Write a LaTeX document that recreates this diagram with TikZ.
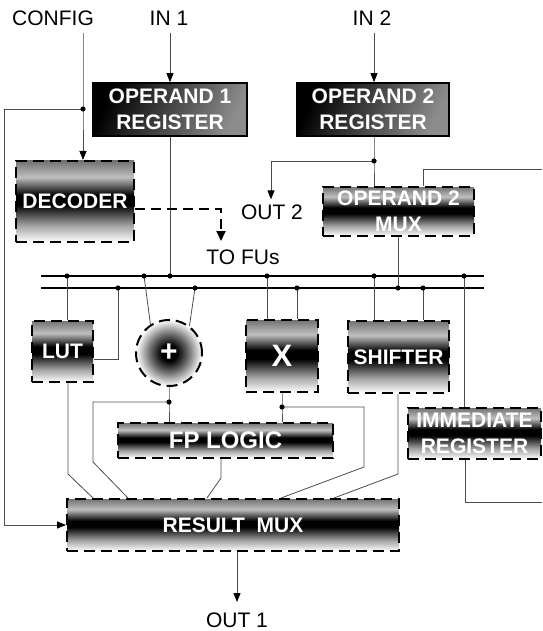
\documentclass[tikz,border=0pt]{standalone}
\usepackage{fontspec}
\setmainfont{Liberation Sans}
\usetikzlibrary{arrows.meta,calc}
\pgfdeclareverticalshading{barrel}{100bp}{color(0bp)=(white); color(25bp)=(white); color(35bp)=(black!35); color(48bp)=(black); color(54bp)=(black); color(65bp)=(black!25); color(75bp)=(black!55); color(100bp)=(black!55)}
\pgfdeclareradialshading{ball}{\pgfpoint{0bp}{0bp}}{color(0bp)=(black); color(6bp)=(black); color(14bp)=(black!60); color(25bp)=(white); color(50bp)=(white)}
\tikzset{
  lbl/.style={font=\fontsize{21}{24}\selectfont, inner sep=0pt},
  reg/.style={draw=black, line width=1.6pt, top color=black, bottom color=black!45, shading angle=65,
    text=white, font=\bfseries\fontsize{21}{26}\selectfont, align=center, inner sep=0pt},
  fu/.style={draw=black, line width=2pt, dash pattern=on 11pt off 6pt, shading=barrel,
    text=white, font=\bfseries\fontsize{21}{26}\selectfont, align=center, inner sep=0pt},
  wire/.style={draw=black!70, line width=0.8pt},
  arr/.style={wire, -{Triangle[length=9pt,width=7pt,color=black]}},
  ctl/.style={draw=black, line width=2pt, dash pattern=on 10pt off 6pt, -{Triangle[length=10pt,width=9pt]}},
  bus/.style={draw=black, line width=2pt}
}
\begin{document}
\begin{tikzpicture}[x=1pt,y=-1pt]
\useasboundingbox (0,0) rectangle (542,631);

% labels
\node[lbl] (config) at (53,18) {CONFIG};
\node[lbl] (in1) at (169,18) {IN 1};
\node[lbl] (in2) at (372,18) {IN 2};
\node[lbl] (out2) at (272,212) {OUT 2};
\node[lbl] (tofu) at (243,257) {TO FUs};
\node[lbl] (out1) at (237,620) {OUT 1};

% boxes
\node[reg, minimum width=154pt, minimum height=53pt] (op1) at (170,109.5) {OPERAND 1\\REGISTER};
\node[reg, minimum width=152pt, minimum height=53pt] (op2) at (373,109.5) {OPERAND 2\\REGISTER};
\node[fu, minimum width=118pt, minimum height=81pt] (dec) at (75,201.5) {DECODER};
\node[fu, minimum width=151pt, minimum height=49pt] (mux2) at (398.5,211.5) {OPERAND 2\\MUX};
\node[fu, minimum width=61pt, minimum height=61pt] (lut) at (62.5,351.5) {LUT};
\node[fu, circle, shading=ball, minimum size=66pt, font=\bfseries\fontsize{30}{30}\selectfont] (add) at (169,353) {+};
\node[fu, minimum width=72pt, minimum height=72pt, font=\bfseries\fontsize{31}{31}\selectfont] (mul) at (282,356) {X};
\node[fu, minimum width=101pt, minimum height=72pt] (shf) at (398.5,357) {SHIFTER};
\node[fu, minimum width=215pt, minimum height=35pt, font=\bfseries\fontsize{24}{26}\selectfont] (fpl) at (225.5,440.5) {FP LOGIC};
\node[fu, minimum width=133pt, minimum height=51pt] (imm) at (474.5,433.5) {IMMEDIATE\\REGISTER};
\node[fu, minimum width=332pt, minimum height=52pt] (rmux) at (233,525) {RESULT\ \ MUX};

% coordinates
\coordinate (cfg0) at (83,33);
\coordinate (in1s) at (170,33);
\coordinate (in2s) at (374,33);
\coordinate (xl) at (4,0);
\coordinate (loopIn) at (542,169);
\coordinate (loopOut) at (542,502);
\coordinate (dcfg) at (83,109);
\coordinate (dop2) at (374,161);
\coordinate (dctl) at (221,209);
\coordinate (dtip) at (221,241);
\coordinate (busTL) at (41,276);
\coordinate (busTR) at (484,276);
\coordinate (busBL) at (41,288);
\coordinate (busBR) at (484,288);
\coordinate (t1) at (67,276);
\coordinate (t2) at (144,276);
\coordinate (t3) at (170,276);
\coordinate (t4) at (267,276);
\coordinate (t5) at (374,276);
\coordinate (t6) at (464,276);
\coordinate (b1) at (118,288);
\coordinate (b2) at (195,288);
\coordinate (b3) at (297,288);
\coordinate (b4) at (398,288);
\coordinate (b5) at (423,288);
\coordinate (kL) at (118,359);
\coordinate (dadd) at (169,402);
\coordinate (dmul) at (282,407);
\coordinate (k0) at (68,474);
\coordinate (k1) at (93,462);
\coordinate (k2) at (221,478);
\coordinate (k3) at (364,467);
\coordinate (k4) at (398,474);
\coordinate (k5) at (465,502);
\coordinate (e1) at (93,499);
\coordinate (e2) at (128,499);
\coordinate (e3) at (207,499);
\coordinate (e4) at (281,499);
\coordinate (e5) at (334,499);
\coordinate (o1) at (237,602);

% buses
\draw[bus] (busTL) -- (busTR);
\draw[bus] (busBL) -- (busBR);

% wires
\draw[arr] (cfg0) -- (dcfg) -- (dcfg |- dec.north);
\draw[arr] (dcfg) -- (dcfg -| xl) -- (xl |- rmux.west) -- (rmux.west);
\draw[arr] (in1s) -- (op1.north);
\draw[wire] (op1.south) -- (t3);
\draw[arr] (in2s) -- (in2s |- op2.north);
\draw[wire] (op2.south -| dop2) -- (dop2) -- (dop2 |- mux2.north);
\draw[arr] (dop2) -| ($(out2.north)+(-1,-5)$);
\draw[wire] (loopIn) -| (b5 |- mux2.north);
\draw[wire] (b4 |- mux2.south) -- (b4);
\draw[ctl] (dec.east |- dctl) -- (dctl) -- (dtip);
\draw[wire] (t1) -- (t1 |- lut.north);
\draw[wire] (b1) -- (kL) -- (lut.east |- kL);
\draw[wire] (t2) -- (add.123);
\draw[wire] (b2) -- (add.53);
\draw[wire] (t4) -- (t4 |- mul.north);
\draw[wire] (b3) -- (b3 |- mul.north);
\draw[wire] (t5) -- (t5 |- shf.north);
\draw[wire] (b5) -- (b5 |- shf.north);
\draw[wire] (t6) -- (t6 |- imm.north);
\draw[wire] (add.south) -- (dadd) -- (dadd |- fpl.north);
\draw[wire] (dadd) -| (k1) -- (e2 |- rmux.north);
\draw[wire] (lut.south -| k0) -- (k0) -- (e1 |- rmux.north);
\draw[wire] (fpl.south -| k2) -- (k2) -- (e3 |- rmux.north);
\draw[wire] (mul.south) -- (dmul) -- (dmul |- fpl.north);
\draw[wire] (dmul) -| (k3) -- (e4 |- rmux.north);
\draw[wire] (shf.south -| k4) -- (k4) -- (e5 |- rmux.north);
\draw[wire] (imm.south -| k5) -- (k5) -- (loopOut);
\draw[arr] (rmux.south -| o1) -- (o1);

% junction dots
\foreach \p in {dcfg,dop2,t1,t2,t3,t4,t5,t6,b1,b2,b3,b4,b5,dadd,dmul}
  \fill[black] (\p) circle (2.6pt);
\end{tikzpicture}
\end{document}
